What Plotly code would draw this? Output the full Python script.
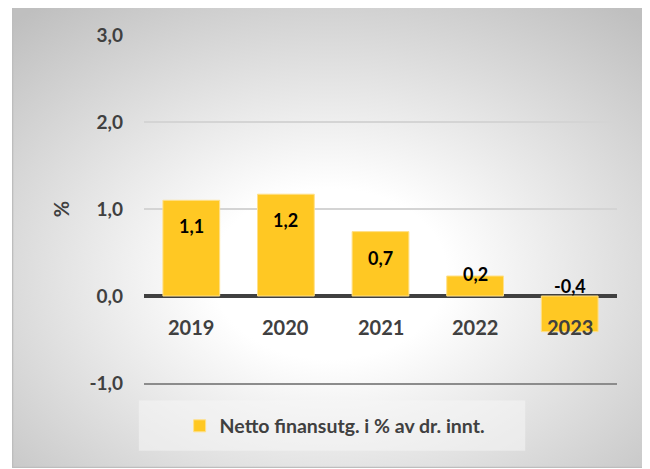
import base64

import plotly.graph_objects as go

# Data
years = ["2019", "2020", "2021", "2022", "2023"]
values = [1.10, 1.17, 0.74, 0.23, -0.41]
series_name = "Netto finansutg. i % av dr. innt."
y_ticks = [-1, 0, 1, 2, 3]
y_tick_labels = ["-1,0", "0,0", "1,0", "2,0", "3,0"]

BAR_COLOR = "#FFC823"
TEXT_DARK = "#404040"
FONT = "Lato"

# Background of the chart box: radial gradient (white centre, grey edges)
svg = (
    '<svg xmlns="http://www.w3.org/2000/svg" width="635" height="462" '
    'viewBox="0 0 635 462" preserveAspectRatio="none">'
    '<defs><radialGradient id="g" cx="0.5" cy="0.58" r="0.74">'
    '<stop offset="0.25" stop-color="#ffffff"/>'
    '<stop offset="1" stop-color="#bfbfbf"/>'
    "</radialGradient></defs>"
    '<rect x="0.5" y="0.5" width="634" height="461" fill="url(#g)" '
    'stroke="#bdbdbd" stroke-width="1.5"/></svg>'
)
bg_src = "data:image/svg+xml;base64," + base64.b64encode(svg.encode()).decode()

fig = go.Figure()

fig.add_trace(
    go.Bar(
        x=years,
        y=values,
        name=series_name,
        width=0.6,
        marker=dict(color=BAR_COLOR, line=dict(color="#FFE08A", width=1)),
        hoverinfo="skip",
    )
)

annotations = []
# etiquetas das barras (x = posição da categoria)
for i, v in enumerate(values):
    label = f"{v:.1f}".replace(".", ",")
    if v > 0.5:
        y, shift = v, -26
    elif v > 0:
        y, shift = v, 2
    else:
        y, shift = 0, 10
    annotations.append(
        dict(
            x=i, y=y, yshift=shift, text=label, showarrow=False,
            font=dict(family=FONT, size=18, color="black", weight="bold"),
            xref="x", yref="y",
        )
    )
# categorias ao lado do eixo zero
for i, yr in enumerate(years):
    annotations.append(
        dict(
            x=i, y=0, yshift=-31, text=yr, showarrow=False,
            font=dict(family=FONT, size=20, color=TEXT_DARK, weight="bold"),
            xref="x", yref="y",
        )
    )

fig.update_layout(
    width=650,
    height=469,
    margin=dict(l=136, r=41, t=27, b=94),
    paper_bgcolor="white",
    plot_bgcolor="rgba(0,0,0,0)",
    font=dict(family=FONT, color=TEXT_DARK),
    showlegend=True,
    legend=dict(
        orientation="h",
        x=0.403, y=-0.124,
        xanchor="center", yanchor="middle",
        bgcolor="rgba(0,0,0,0)",
        font=dict(family=FONT, size=19.5, color=TEXT_DARK, weight="bold"),
        itemwidth=30,
    ),
    images=[
        dict(
            source=bg_src, xref="paper", yref="paper",
            x=-0.279, y=1.0833, sizex=1.3425, sizey=1.3276,
            xanchor="left", yanchor="top", sizing="stretch", layer="below",
        )
    ],
    shapes=[
        # fundo da legenda
        dict(
            type="rect", xref="paper", yref="paper",
            x0=-0.011, x1=0.806, y0=-0.195, y1=-0.05,
            fillcolor="rgba(245,245,245,0.55)", line=dict(width=0), layer="below",
        )
    ],
    annotations=annotations,
    xaxis=dict(
        type="category",
        range=[-0.5, len(years) - 0.5],
        showticklabels=False,
        ticks="",
        showgrid=False,
        showline=True,
        linecolor="#8c8c8c",
        linewidth=2,
    ),
    yaxis=dict(
        range=[-1, 3],
        tickvals=y_ticks,
        ticktext=y_tick_labels,
        showgrid=True,
        gridcolor="#d4d4d4",
        gridwidth=2,
        zeroline=True,
        zerolinecolor=TEXT_DARK,
        zerolinewidth=4,
        ticks="",
        ticklabelstandoff=20,
        tickfont=dict(family=FONT, size=19, color=TEXT_DARK, weight="bold"),
        title=dict(
            text="%", standoff=14,
            font=dict(family=FONT, size=20, color=TEXT_DARK, weight="bold"),
        ),
    ),
)

fig.write_html("out.html")
